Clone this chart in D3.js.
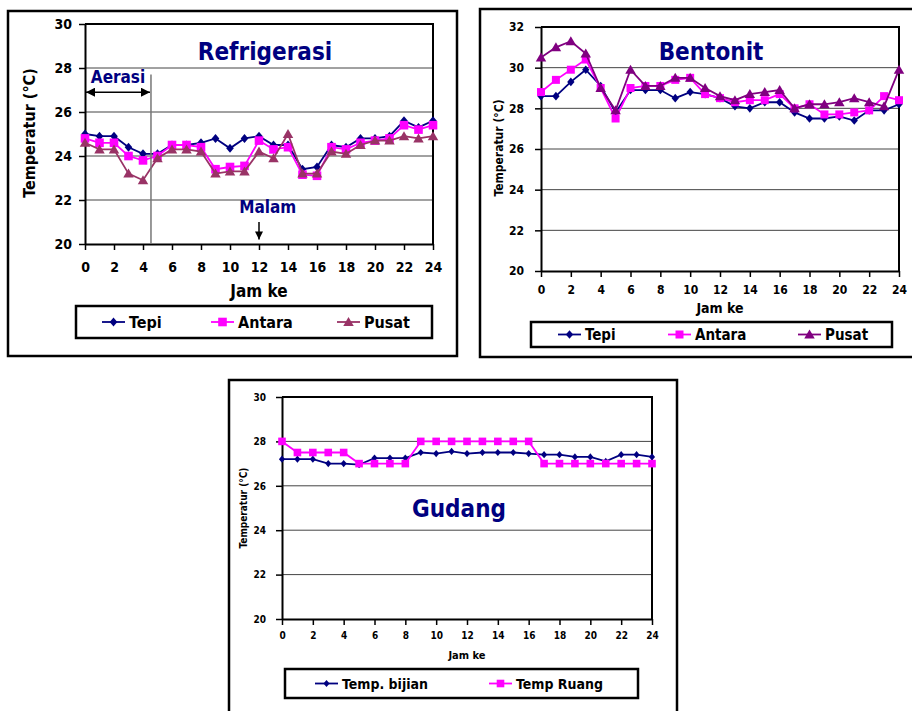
<!DOCTYPE html>
<html>
<head>
<meta charset="utf-8">
<script src="https://cdn.jsdelivr.net/npm/d3@7"></script>
<style>
  body { margin: 0; background: #fff; }
  svg { display: block; }
  text { font-family: "DejaVu Sans Condensed", "DejaVu Sans", sans-serif; font-weight: bold; font-stretch: condensed; }
</style>
</head>
<body>
<svg id="chart" width="912" height="711"></svg>
<script>
// Hour of observation (x axis) and axis tick labels
const hours = [0, 1, 2, 3, 4, 5, 6, 7, 8, 9, 10, 11, 12, 13, 14, 15, 16, 17, 18, 19, 20, 21, 22, 23, 24];
const hourTicks = [0, 2, 4, 6, 8, 10, 12, 14, 16, 18, 20, 22, 24];
const ticks20to30 = [20, 22, 24, 26, 28, 30];
const ticks20to32 = [20, 22, 24, 26, 28, 30, 32];

// Refrigerasi (°C)
const refTepi   = [25.0, 24.9, 24.9, 24.4, 24.1, 24.1, 24.5, 24.5, 24.6, 24.8, 24.35, 24.8, 24.9, 24.5, 24.5, 23.4, 23.5, 24.5, 24.4, 24.8, 24.8, 24.9, 25.6, 25.3, 25.6];
const refAntara = [24.8, 24.6, 24.6, 24.0, 23.8, 24.0, 24.5, 24.5, 24.4, 23.4, 23.5, 23.55, 24.7, 24.3, 24.4, 23.15, 23.1, 24.4, 24.3, 24.6, 24.7, 24.8, 25.4, 25.2, 25.4];
const refPusat  = [24.6, 24.3, 24.3, 23.2, 22.9, 23.9, 24.3, 24.3, 24.2, 23.2, 23.3, 23.3, 24.2, 23.9, 25.0, 23.2, 23.2, 24.2, 24.1, 24.5, 24.7, 24.7, 24.9, 24.8, 24.9];

// Bentonit (°C)
const benTepi   = [28.6, 28.6, 29.3, 29.9, 29.1, 27.8, 28.9, 28.9, 28.9, 28.5, 28.8, 28.7, 28.5, 28.1, 28.0, 28.3, 28.3, 27.8, 27.5, 27.5, 27.6, 27.4, 27.9, 27.9, 28.2];
const benAntara = [28.8, 29.4, 29.9, 30.4, 29.0, 27.5, 29.0, 29.1, 29.1, 29.4, 29.5, 28.7, 28.5, 28.3, 28.4, 28.4, 28.7, 28.0, 28.2, 27.7, 27.7, 27.8, 27.9, 28.6, 28.4];
const benPusat  = [30.5, 31.0, 31.3, 30.7, 29.0, 27.9, 29.9, 29.1, 29.1, 29.5, 29.5, 29.0, 28.6, 28.4, 28.7, 28.8, 28.9, 28.0, 28.2, 28.2, 28.3, 28.5, 28.3, 28.1, 29.9];

// Gudang (°C)
const gudBijian = [27.2, 27.2, 27.2, 27.0, 27.0, 26.95, 27.25, 27.25, 27.25, 27.5, 27.45, 27.55, 27.45, 27.5, 27.5, 27.5, 27.45, 27.4, 27.4, 27.3, 27.3, 27.1, 27.4, 27.4, 27.3];
const gudRuang  = [28.0, 27.5, 27.5, 27.5, 27.5, 27.0, 27.0, 27.0, 27.0, 28.0, 28.0, 28.0, 28.0, 28.0, 28.0, 28.0, 28.0, 27.0, 27.0, 27.0, 27.0, 27.0, 27.0, 27.0, 27.0];

const NAVY = "#000080", MAGENTA = "#ff00ff", MAUVE = "#993366", PURPLE = "#800080";

const svg = d3.select("#chart");

// Marker glyphs centred on the origin
function markerPath(kind, r) {
  if (kind === "diamond") return `M0,${-r}L${r * 0.85},0L0,${r}L${-r * 0.85},0Z`;
  if (kind === "square") return `M${-r},${-r}H${r}V${r}H${-r}Z`;
  return `M0,${-r}L${r * 1.05},${r * 0.8}L${-r * 1.05},${r * 0.8}Z`;
}

function drawPanel(p) {
  const g = svg.append("g");

  // outer frame of the panel
  g.append("rect")
    .attr("x", p.frame[0]).attr("y", p.frame[1])
    .attr("width", p.frame[2] - p.frame[0]).attr("height", p.frame[3] - p.frame[1])
    .attr("fill", "none").attr("stroke", "#000").attr("stroke-width", 2.5);

  const x = d3.scaleLinear().domain([0, 24]).range([p.plot[0], p.plot[2]]);
  const y = d3.scaleLinear().domain(d3.extent(p.yTicks)).range([p.plot[3], p.plot[1]]);

  // horizontal grid
  g.append("g").selectAll("line")
    .data(p.yTicks.slice(1, -1))
    .join("line")
    .attr("x1", p.plot[0]).attr("x2", p.plot[2])
    .attr("y1", d => y(d)).attr("y2", d => y(d))
    .attr("stroke", "#444").attr("stroke-width", 1);

  // top and right edges of the plot area
  g.append("path")
    .attr("d", `M${p.plot[0]},${p.plot[1]}H${p.plot[2]}V${p.plot[3]}`)
    .attr("fill", "none").attr("stroke", "#000").attr("stroke-width", 2);

  const yAxis = g.append("g")
    .attr("transform", `translate(${p.plot[0]},0)`)
    .call(d3.axisLeft(y).tickValues(p.yTicks).tickFormat(d3.format("d")).tickSize(6).tickSizeOuter(0).tickPadding(p.yPad));
  const xAxis = g.append("g")
    .attr("transform", `translate(0,${p.plot[3]})`)
    .call(d3.axisBottom(x).tickValues(hourTicks).tickFormat(d3.format("d")).tickSize(6).tickSizeOuter(0).tickPadding(p.xPad));
  [yAxis, xAxis].forEach(a => {
    a.select(".domain").attr("stroke", "#000").attr("stroke-width", 2);
    a.selectAll(".tick line").attr("stroke", "#000").attr("stroke-width", 1.5);
    a.selectAll("text").attr("fill", "#000").style("font-size", p.tickSize + "px")
      .style("font-family", '"DejaVu Sans Condensed","DejaVu Sans",sans-serif').style("font-weight", "bold");
  });

  // axis titles
  g.append("text")
    .attr("x", (p.plot[0] + p.plot[2]) / 2).attr("y", p.xTitleY)
    .attr("text-anchor", "middle").attr("dominant-baseline", "central")
    .style("font-size", p.xTitleSize + "px").text("Jam ke");
  g.append("text")
    .attr("transform", `translate(${p.yTitleX},${p.yTitleY}) rotate(-90)`)
    .attr("text-anchor", "middle").attr("dominant-baseline", "central")
    .style("font-size", p.yTitleSize + "px").text("Temperatur (°C)");

  // panel title
  g.append("text")
    .attr("x", p.title[1]).attr("y", p.title[2])
    .attr("text-anchor", "middle").attr("fill", NAVY)
    .style("font-size", "24px").text(p.title[0]);

  // series
  const line = d3.line().x((d, i) => x(hours[i])).y(d => y(d));
  p.series.forEach(s => {
    g.append("path").datum(s.values)
      .attr("d", line).attr("fill", "none")
      .attr("stroke", s.color).attr("stroke-width", 1.8);
    g.append("g").selectAll("path")
      .data(s.values)
      .join("path")
      .attr("transform", (d, i) => `translate(${x(hours[i])},${y(d)})`)
      .attr("d", markerPath(s.marker, s.r))
      .attr("fill", s.color);
  });

  // legend
  const L = p.legend;
  g.append("rect")
    .attr("x", L.box[0]).attr("y", L.box[1])
    .attr("width", L.box[2] - L.box[0]).attr("height", L.box[3] - L.box[1])
    .attr("fill", "#fff").attr("stroke", "#000").attr("stroke-width", 2.5);
  const ly = (L.box[1] + L.box[3]) / 2;
  p.series.forEach((s, i) => {
    const lx = L.starts[i];
    g.append("line").attr("x1", lx).attr("x2", lx + 23).attr("y1", ly).attr("y2", ly)
      .attr("stroke", s.color).attr("stroke-width", 1.8);
    g.append("path").attr("transform", `translate(${lx + 11.5},${ly})`)
      .attr("d", markerPath(s.marker, s.r)).attr("fill", s.color);
    g.append("text").attr("x", lx + 27).attr("y", ly)
      .attr("dominant-baseline", "central")
      .style("font-size", L.size + "px").text(s.name);
  });

  return { g, x, y };
}

// Refrigerasi
const ref = drawPanel({
  frame: [8, 11, 457, 356],
  plot: [85, 24, 433, 244],
  yTicks: ticks20to30, yPad: 7, xPad: 12, tickSize: 14,
  xTitleY: 291, xTitleSize: 17,
  yTitleX: 29, yTitleY: 133, yTitleSize: 16,
  title: ["Refrigerasi", 265, 60],
  series: [
    { name: "Tepi", values: refTepi, color: NAVY, marker: "diamond", r: 4.5 },
    { name: "Antara", values: refAntara, color: MAGENTA, marker: "square", r: 4.3 },
    { name: "Pusat", values: refPusat, color: MAUVE, marker: "triangle", r: 5 }
  ],
  legend: { box: [76, 306, 432, 338], starts: [102, 211, 337], size: 16 }
});

// Aeration period marker (hour 0 to ~4.5) and night marker at hour 12
const aerasiEnd = 4.55;
ref.g.append("line")
  .attr("x1", ref.x(aerasiEnd)).attr("x2", ref.x(aerasiEnd))
  .attr("y1", ref.y(27.7)).attr("y2", ref.y(20))
  .attr("stroke", "#777").attr("stroke-width", 1.5);
ref.g.append("defs").html(
  '<marker id="ah" viewBox="0 0 10 10" refX="10" refY="5" markerWidth="9" markerHeight="9" markerUnits="userSpaceOnUse" orient="auto-start-reverse">' +
  '<path d="M0,0L10,5L0,10Z" fill="#000"/></marker>' +
  '<marker id="ah2" viewBox="0 0 10 10" refX="10" refY="5" markerWidth="10" markerHeight="8" markerUnits="userSpaceOnUse" orient="auto">' +
  '<path d="M0,0L10,5L0,10Z" fill="#000"/></marker>');
ref.g.append("line")
  .attr("x1", ref.x(0) + 1).attr("x2", ref.x(aerasiEnd) - 1)
  .attr("y1", ref.y(26.9)).attr("y2", ref.y(26.9))
  .attr("stroke", "#000").attr("stroke-width", 1.5)
  .attr("marker-start", "url(#ah)").attr("marker-end", "url(#ah)");
ref.g.append("text")
  .attr("x", ref.x(0.4)).attr("y", ref.y(27.3))
  .attr("fill", NAVY).style("font-size", "17px").text("Aerasi");
ref.g.append("text")
  .attr("x", ref.x(12.6)).attr("y", ref.y(21.4))
  .attr("text-anchor", "middle").attr("fill", NAVY).style("font-size", "17px").text("Malam");
ref.g.append("line")
  .attr("x1", ref.x(12)).attr("x2", ref.x(12))
  .attr("y1", ref.y(21.0)).attr("y2", ref.y(20.2))
  .attr("stroke", "#000").attr("stroke-width", 1.5)
  .attr("marker-end", "url(#ah2)");

// Bentonit
drawPanel({
  frame: [480, 9, 914, 357],
  plot: [541, 27, 899, 271],
  yTicks: ticks20to32, yPad: 11, xPad: 8, tickSize: 12,
  xTitleY: 308, xTitleSize: 14,
  yTitleX: 499, yTitleY: 148, yTitleSize: 12,
  title: ["Bentonit", 711, 60],
  series: [
    { name: "Tepi", values: benTepi, color: NAVY, marker: "diamond", r: 4.3 },
    { name: "Antara", values: benAntara, color: MAGENTA, marker: "square", r: 4 },
    { name: "Pusat", values: benPusat, color: PURPLE, marker: "triangle", r: 5 }
  ],
  legend: { box: [531, 322, 892, 347], starts: [558, 668, 798], size: 15 }
});

// Gudang
drawPanel({
  frame: [229, 380, 677, 714],
  plot: [282, 397, 652, 619],
  yTicks: ticks20to30, yPad: 10, xPad: 7, tickSize: 10,
  xTitleY: 655, xTitleSize: 11,
  yTitleX: 243, yTitleY: 508, yTitleSize: 10,
  title: ["Gudang", 459, 517],
  series: [
    { name: "Temp. bijian", values: gudBijian, color: NAVY, marker: "diamond", r: 3.6 },
    { name: "Temp Ruang", values: gudRuang, color: MAGENTA, marker: "square", r: 3.8 }
  ],
  legend: { box: [285, 669, 638, 698], starts: [315, 489], size: 14 }
});
</script>
</body>
</html>
